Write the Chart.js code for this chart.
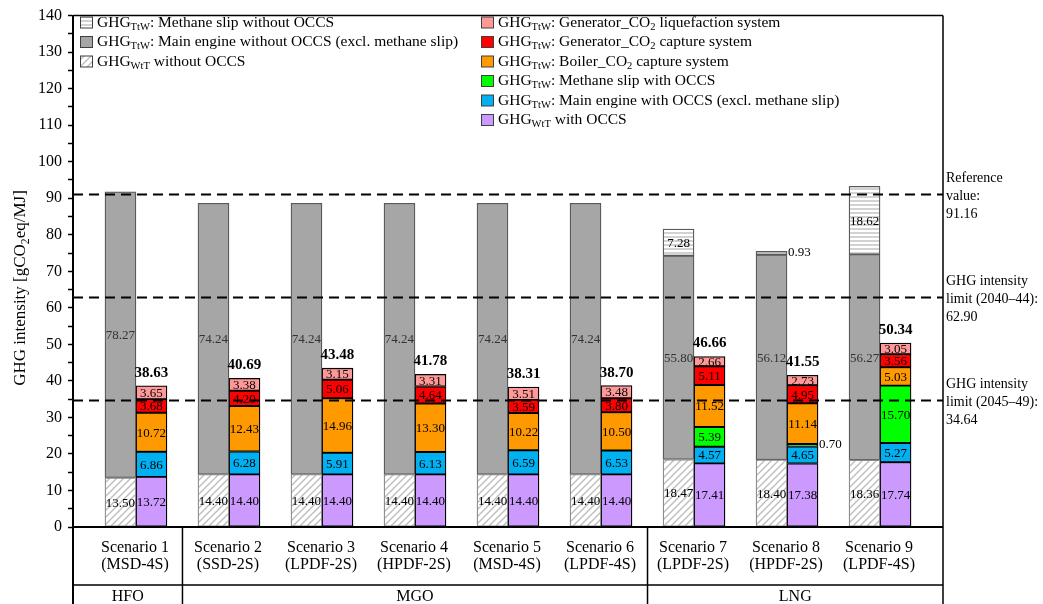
<!DOCTYPE html>
<html>
<head>
<meta charset="utf-8">
<script src="https://cdn.jsdelivr.net/npm/chart.js@4.4.0/dist/chart.umd.min.js"></script>
<style>
  html, body { margin: 0; padding: 0; background: #fff; }
  #wrap { width: 1043px; height: 604px; position: relative; }
</style>
</head>
<body>
<div id="wrap"><canvas id="c"></canvas></div>
<script>
const scenarios = ['Scenario 1', 'Scenario 2', 'Scenario 3', 'Scenario 4', 'Scenario 5', 'Scenario 6', 'Scenario 7', 'Scenario 8', 'Scenario 9'];
const engines = ['(MSD-4S)', '(SSD-2S)', '(LPDF-2S)', '(HPDF-2S)', '(MSD-4S)', '(LPDF-4S)', '(LPDF-2S)', '(HPDF-2S)', '(LPDF-4S)'];
const fuels = ['HFO', 'MGO', 'LNG'];
const fuelSpans = [[0, 0], [1, 5], [6, 8]];

// without OCCS
const wttNoOccs = [13.50, 14.40, 14.40, 14.40, 14.40, 14.40, 18.47, 18.40, 18.36];
const engineNoOccs = [78.27, 74.24, 74.24, 74.24, 74.24, 74.24, 55.80, 56.12, 56.27];
const slipNoOccs = [null, null, null, null, null, null, 7.28, 0.93, 18.62];

// with OCCS
const wttOccs = [13.72, 14.40, 14.40, 14.40, 14.40, 14.40, 17.41, 17.38, 17.74];
const engineOccs = [6.86, 6.28, 5.91, 6.13, 6.59, 6.53, 4.57, 4.65, 5.27];
const slipOccs = [null, null, null, null, null, null, 5.39, 0.70, 15.70];
const boilerCapture = [10.72, 12.43, 14.96, 13.30, 10.22, 10.50, 11.52, 11.14, 5.03];
const genCapture = [3.68, 4.20, 5.06, 4.64, 3.59, 3.80, 5.11, 4.95, 3.56];
const genLiquefaction = [3.65, 3.38, 3.15, 3.31, 3.51, 3.48, 2.66, 2.73, 3.05];
const totalsOccs = [38.63, 40.69, 43.48, 41.78, 38.31, 38.70, 46.66, 41.55, 50.34];

const refValues = [91.16, 62.90, 34.64];
const refLabels = [
  ['Reference', 'value:', '91.16'],
  ['GHG intensity', 'limit (2040\u201344):', '62.90'],
  ['GHG intensity', 'limit (2045\u201349):', '34.64']
];

const FONT = '"Liberation Serif", "Times New Roman", serif';
const canvas = document.getElementById('c');
const ctx0 = canvas.getContext('2d');

function diagPattern() {
  const s = 7, c = document.createElement('canvas');
  c.width = c.height = s;
  const g = c.getContext('2d');
  g.fillStyle = '#fff'; g.fillRect(0, 0, s, s);
  g.strokeStyle = '#bdbdbd'; g.lineWidth = 1.4;
  g.beginPath();
  g.moveTo(-1, s + 1); g.lineTo(s + 1, -1);
  g.moveTo(-1, 1); g.lineTo(1, -1);
  g.moveTo(s - 1, s + 1); g.lineTo(s + 1, s - 1);
  g.stroke();
  return ctx0.createPattern(c, 'repeat');
}
function stripePattern() {
  const c = document.createElement('canvas');
  c.width = 4; c.height = 4;
  const g = c.getContext('2d');
  g.fillStyle = '#fff'; g.fillRect(0, 0, 4, 4);
  g.fillStyle = '#d2d2d2'; g.fillRect(0, 0, 4, 2);
  return ctx0.createPattern(c, 'repeat');
}
const diag = diagPattern();
const stripes = stripePattern();

const pts = arr => arr.map((v, i) => ({ x: i, y: v }));

// legend text: [text, isSubscript]
const sub = (name, rest) => [['GHG', 0], [name, 1], [rest, 0]];
const series = [
  { data: wttNoOccs, stack: 'no', bg: diag, bd: '#8c8c8c', text: '#000', leg: sub('WtT', ' without OCCS') },
  { data: engineNoOccs, stack: 'no', bg: '#a6a6a6', bd: '#595959', text: '#333', leg: sub('TtW', ': Main engine without OCCS (excl. methane slip)') },
  { data: slipNoOccs, stack: 'no', bg: stripes, bd: '#595959', text: '#000', leg: sub('TtW', ': Methane slip without OCCS') },
  { data: wttOccs, stack: 'with', bg: '#cc99ff', bd: '#000', text: '#000', leg: sub('WtT', ' with OCCS') },
  { data: engineOccs, stack: 'with', bg: '#00b0f0', bd: '#000', text: '#000', leg: sub('TtW', ': Main engine with OCCS (excl. methane slip)') },
  { data: slipOccs, stack: 'with', bg: '#00ff00', bd: '#000', text: '#000', leg: sub('TtW', ': Methane slip with OCCS') },
  { data: boilerCapture, stack: 'with', bg: '#ff9900', bd: '#000', text: '#000', leg: [['GHG', 0], ['TtW', 1], [': Boiler_CO', 0], ['2', 1], [' capture system', 0]] },
  { data: genCapture, stack: 'with', bg: '#ff0000', bd: '#000', text: '#000', leg: [['GHG', 0], ['TtW', 1], [': Generator_CO', 0], ['2', 1], [' capture system', 0]] },
  { data: genLiquefaction, stack: 'with', bg: '#ff9999', bd: '#000', text: '#000', leg: [['GHG', 0], ['TtW', 1], [': Generator_CO', 0], ['2', 1], [' liquefaction system', 0]] }
];
const legendCol1 = [2, 1, 0];
const legendCol2 = [8, 7, 6, 5, 4, 3];

function drawRich(ctx, parts, x, y, size) {
  let cx = x;
  for (const [t, s] of parts) {
    ctx.font = (s ? size * 0.68 : size) + 'px ' + FONT;
    ctx.fillText(t, cx, s ? y + size * 0.3 : y);
    cx += ctx.measureText(t).width;
  }
  return cx - x;
}
function richWidth(ctx, parts, size) {
  let w = 0;
  for (const [t, s] of parts) {
    ctx.font = (s ? size * 0.68 : size) + 'px ' + FONT;
    w += ctx.measureText(t).width;
  }
  return w;
}

const overlay = {
  id: 'overlay',
  afterDatasetsDraw(chart) {
    const { ctx, chartArea: a, scales: { x, y } } = chart;
    ctx.save();
    ctx.textBaseline = 'middle';
    // segment labels
    chart.data.datasets.forEach((ds, di) => {
      const meta = chart.getDatasetMeta(di);
      meta.data.forEach((el, i) => {
        const v = ds.data[i].y;
        if (v == null) return;
        ctx.font = '13px ' + FONT;
        ctx.fillStyle = series[di].text;
        if (v < 1) {
          ctx.textAlign = 'left';
          ctx.fillStyle = '#000';
          ctx.fillText(v.toFixed(2), el.x + el.width / 2 + 1, el.y + 1);
        } else {
          ctx.textAlign = 'center';
          ctx.fillText(v.toFixed(2), el.x, (el.y + el.base) / 2 + 1);
        }
      });
    });
    // totals
    const meta = chart.getDatasetMeta(3);
    ctx.font = 'bold 15px ' + FONT;
    ctx.fillStyle = '#000';
    ctx.textAlign = 'center';
    totalsOccs.forEach((t, i) => {
      ctx.fillText(t.toFixed(2), meta.data[i].x, y.getPixelForValue(t) - 13);
    });
    // reference lines
    ctx.strokeStyle = '#000';
    ctx.lineWidth = 2.2;
    ctx.setLineDash([10, 6]);
    refValues.forEach(v => {
      const py = Math.round(y.getPixelForValue(v)) + 0.5;
      ctx.beginPath();
      ctx.moveTo(a.left, py);
      ctx.lineTo(a.right, py);
      ctx.stroke();
    });
    ctx.restore();
  },
  afterDraw(chart) {
    const { ctx, chartArea: a, scales: { x, y } } = chart;
    const H = chart.height;
    ctx.save();
    // frame
    ctx.strokeStyle = '#000';
    ctx.lineWidth = 1.5;
    ctx.beginPath();
    ctx.moveTo(a.left, a.top); ctx.lineTo(a.right, a.top);
    ctx.moveTo(a.right, a.top); ctx.lineTo(a.right, H);
    ctx.stroke();
    ctx.lineWidth = 2;
    ctx.beginPath();
    ctx.moveTo(a.left - 1, a.bottom); ctx.lineTo(a.right, a.bottom);
    ctx.moveTo(a.left, a.bottom); ctx.lineTo(a.left, H);
    ctx.stroke();
    // category table
    const rowY = 585;
    ctx.lineWidth = 1.5;
    ctx.beginPath();
    ctx.moveTo(a.left, rowY); ctx.lineTo(a.right, rowY);
    const bounds = [a.left];
    fuelSpans.forEach((s, k) => {
      const bx = k === fuelSpans.length - 1 ? a.right : x.getPixelForValue(s[1] + 0.5);
      bounds.push(bx);
      if (k < fuelSpans.length - 1) { ctx.moveTo(bx, a.bottom); ctx.lineTo(bx, H); }
    });
    ctx.stroke();
    ctx.fillStyle = '#000';
    ctx.textAlign = 'center';
    ctx.textBaseline = 'middle';
    ctx.font = '16px ' + FONT;
    scenarios.forEach((s, i) => {
      const px = x.getPixelForValue(i) - 1;
      ctx.fillText(s, px, 548);
      ctx.fillText(engines[i], px, 565);
    });
    fuels.forEach((f, k) => ctx.fillText(f, (bounds[k] + bounds[k + 1]) / 2, 597));
    // reference labels
    ctx.textAlign = 'left';
    ctx.font = '14px ' + FONT;
    refValues.forEach((v, k) => {
      const py = y.getPixelForValue(v);
      refLabels[k].forEach((t, j) => ctx.fillText(t, a.right + 3, py - 16 + j * 18));
    });
    // y title
    const title = [['GHG intensity [gCO', 0], ['2', 1], ['eq/MJ]', 0]];
    ctx.save();
    ctx.translate(21, 288);
    ctx.rotate(-Math.PI / 2);
    const tw = richWidth(ctx, title, 17);
    drawRich(ctx, title, -tw / 2, 0, 17);
    ctx.restore();
    // legend
    const drawItem = (si, sx, ty) => {
      const s = series[si];
      ctx.fillStyle = s.bg;
      ctx.fillRect(sx, ty - 5.5, 13, 11);
      ctx.strokeStyle = '#404040';
      ctx.lineWidth = 1;
      ctx.strokeRect(sx + 0.5, ty - 5.5, 12, 11);
      ctx.fillStyle = '#000';
      drawRich(ctx, s.leg, sx + 17, ty, 15.5);
    };
    legendCol1.forEach((si, r) => drawItem(si, 80, 22.5 + r * 19.5));
    legendCol2.forEach((si, r) => drawItem(si, 481, 22.5 + r * 19.5));
    ctx.restore();
  }
};

new Chart(canvas, {
  type: 'bar',
  data: {
    datasets: series.map(s => ({
      data: pts(s.data),
      stack: s.stack,
      backgroundColor: s.bg,
      borderColor: s.bd,
      borderWidth: 1.3,
      borderSkipped: false,
      barThickness: 31
    }))
  },
  options: {
    responsive: true,
    maintainAspectRatio: false,
    animation: false,
    devicePixelRatio: 1,
    layout: { padding: { top: 12.6, right: 100, bottom: 77, left: 0 } },
    plugins: { legend: { display: false }, tooltip: { enabled: false } },
    scales: {
      x: { type: 'linear', min: -0.677, max: 8.677, offset: false, grid: { offset: false }, display: false },
      y: {
        stacked: true,
        min: 0,
        max: 140,
        ticks: {
          stepSize: 5,
          autoSkip: false,
          color: '#000',
          padding: 6,
          font: { family: FONT, size: 16 },
          callback: v => (v % 10 === 0 ? v : '')
        },
        grid: { drawOnChartArea: false, tickLength: 5, tickColor: '#000', tickWidth: 1.5 },
        border: { color: '#000', width: 2 },
        afterFit(scale) { scale.width = 73; }
      }
    }
  },
  plugins: [overlay]
});
</script>
</body>
</html>
